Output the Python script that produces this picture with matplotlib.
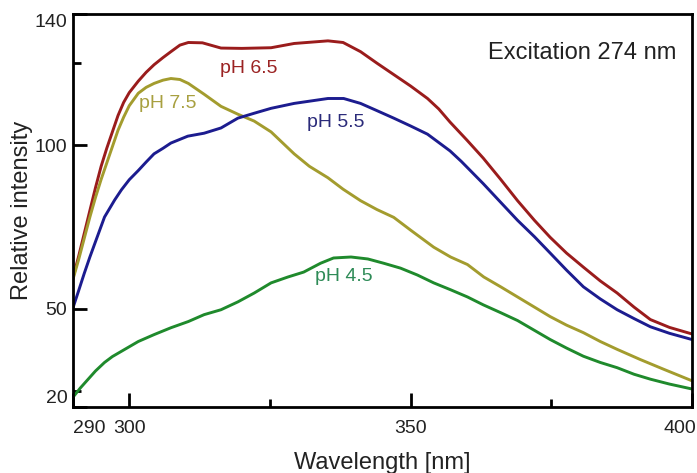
import matplotlib
matplotlib.use("Agg")
import matplotlib.pyplot as plt
from matplotlib.ticker import FixedLocator
from matplotlib.transforms import ScaledTranslation

plt.rcParams['font.family'] = ['Liberation Sans', 'DejaVu Sans']

# ---- data ----
x_ph65 = [290, 291, 292, 293, 294, 295, 296, 297, 298, 299, 300, 301.6, 303, 304.4, 306, 307.4,
          309, 310.5, 313, 316.3, 320, 325.2, 329.3, 335.3, 338, 341.1, 344, 347, 350, 353,
          355, 357, 360, 362.9, 366, 369, 372, 374.8, 377.7, 380.7, 383.7, 386.7, 389.7,
          392.6, 396, 400]
y_ph65 = [59.5, 66, 73, 80, 87, 93.5, 99, 104, 109, 113, 116, 119.5, 122.2, 124.5, 126.7, 128.5,
          130.5, 131.3, 131.2, 129.6, 129.5, 129.7, 131, 131.8, 131.3, 128.5, 125, 121.5, 118, 114.2,
          111, 107, 101.5, 96, 89.5, 83, 77, 71.8, 67, 62.7, 58.5, 54.8, 50.5,
          46.7, 44.3, 42.3]

x_ph75 = [290, 291, 292, 293, 294, 295, 296, 297, 298, 299, 300, 301.6, 303, 304.4, 306, 307.4,
          309, 310.5, 313.3, 316.3, 319.3, 322.2, 325.2, 329.3, 332, 335.3, 338, 341.1, 344,
          347, 350, 354.1, 357.1, 360.1, 363, 366, 369, 372, 374.8, 377.7, 380.7, 383.7, 386.7,
          390.8, 395, 400]
y_ph75 = [59, 65, 71.5, 78, 84, 89.5, 94.5, 99.5, 104.5, 108.5, 112, 115.8, 117.6, 118.8, 119.8, 120.3,
          120, 118.8, 115.5, 111.8, 109.4, 107.3, 104, 97.3, 93.5, 90, 86.5, 83, 80.3,
          77.9, 74, 68.8, 65.8, 63.5, 59.7, 56.7, 53.6, 50.5, 47.6, 45, 42.7, 40, 37.6,
          34.5, 31.5, 28]

x_ph55 = [290, 291, 292, 293, 294, 295.6, 297.4, 298.6, 300, 301.6, 303, 304.4, 306, 307.4, 310.4,
          313.3, 316.3, 319.3, 322.2, 325.2, 329.3, 335.3, 338.1, 341.1, 344, 347, 350, 353, 357,
          359, 362.9, 366, 369, 372, 374.8, 377.7, 380.7, 383.7, 386.7, 389.7, 392.6, 396, 400]
y_ph55 = [50.3, 55.5, 60.8, 65.8, 70.5, 78, 83.2, 86.3, 89.4, 92.2, 94.8, 97.3, 99, 100.6, 102.7,
          103.6, 105.2, 108.2, 109.7, 111.2, 112.7, 114.2, 114.2, 112.7, 110.5, 108.2, 105.8, 103.3, 98.2,
          95, 88.2, 82.5, 77, 72, 67, 61.8, 56.7, 53, 49.7, 47, 44.5, 42.5, 40.6]

x_ph45 = [290, 291.3, 292.7, 294, 295.6, 297, 298.6, 301.6, 304.4, 307.4, 310.5, 313.3, 316.3, 319.3,
          322.2, 325.2, 328.2, 331, 334, 336.3, 339.4, 342.4, 345.2, 348.2, 351.2, 354.1, 357.1,
          360.1, 362.9, 366, 369, 371.8, 374.8, 377.7, 380.7, 383.7, 386.7, 389.7, 392.6, 396, 400]
y_ph45 = [23, 25.8, 28.5, 31, 33.6, 35.4, 37, 40, 42.1, 44.2, 46.1, 48.2, 49.7, 52.1,
          54.8, 57.9, 59.7, 61.2, 63.9, 65.5, 65.8, 65.2, 63.9, 62.4, 60.3, 57.9, 55.8,
          53.6, 51.2, 48.8, 46.4, 43.6, 40.6, 38, 35.5, 33.6, 32, 30, 28.5, 27, 25.5]

series_labels = ["pH 6.5", "pH 7.5", "pH 5.5", "pH 4.5"]
x_tick_values = [290, 300, 350, 400]
x_tick_labels = ["290", "300", "350", "400"]
x_minor_values = [325, 375]
y_tick_values = [20, 50, 100, 140]
y_tick_labels = ["20", "50", "100", "140"]
y_minor_values = [25, 125]

# ---- figure ----
fig = plt.figure(figsize=(6.97, 4.73), dpi=100)
ax = fig.add_axes([73 / 697, 1 - 407 / 473, (692 - 73) / 697, (407 - 14) / 473])

line_colors = ["#9a1c1c", "#a39c2e", "#1c1c8f", "#1f8a2c"]
text_colors = ["#9b2323", "#a8a040", "#2b2b7a", "#2e8b57"]
xs = [x_ph65, x_ph75, x_ph55, x_ph45]
ys = [y_ph65, y_ph75, y_ph55, y_ph45]
for x, y, c in zip(xs, ys, line_colors):
    ax.plot(x, y, color=c, lw=2.1, solid_joinstyle='round', solid_capstyle='round')

label_pos = [(321.3, 123.5), (306.9, 112.8), (336.7, 107.0), (338.1, 59.9)]
for (lx, ly), s, c in zip(label_pos, series_labels, text_colors):
    ax.text(lx, ly, s, color=c, fontsize=14, ha='center', va='center')

ax.text(380.5, 128.2, "Excitation 274 nm", fontsize=17, ha='center', va='center', color='#222222')

ax.set_xlim(290, 400)
ax.set_ylim(20, 140)

for sp in ax.spines.values():
    sp.set_linewidth(2.0)
    sp.set_color('black')

ax.set_xticks(x_tick_values)
ax.set_xticklabels(x_tick_labels, fontsize=14, color='#222222')
ax.xaxis.set_minor_locator(FixedLocator(x_minor_values))
ax.set_yticks(y_tick_values)
ax.set_yticklabels(y_tick_labels, fontsize=14, color='#222222')
ax.yaxis.set_minor_locator(FixedLocator(y_minor_values))

ax.tick_params(which='major', direction='in', length=10, width=2.0, color='black')
ax.tick_params(which='minor', direction='in', length=6, width=2.0, color='black')
ax.tick_params(axis='x', which='major', pad=9)
ax.tick_params(axis='y', which='major', pad=4)

# nudge end labels inward, as in the reference
xl = ax.get_xticklabels()
xl[0].set_horizontalalignment('left')
xl[-1].set_horizontalalignment('right')
xl[-1].set_transform(xl[-1].get_transform() + ScaledTranslation(4 / 100, 0, fig.dpi_scale_trans))
yl = ax.get_yticklabels()
yl[-1].set_verticalalignment('top')
yl[0].set_verticalalignment('bottom')

ax.set_xlabel("Wavelength [nm]", fontsize=17, color='#222222', labelpad=11)
ax.set_ylabel("Relative intensity", fontsize=17, color='#222222', labelpad=1)

fig.savefig("out.png", dpi=100)
